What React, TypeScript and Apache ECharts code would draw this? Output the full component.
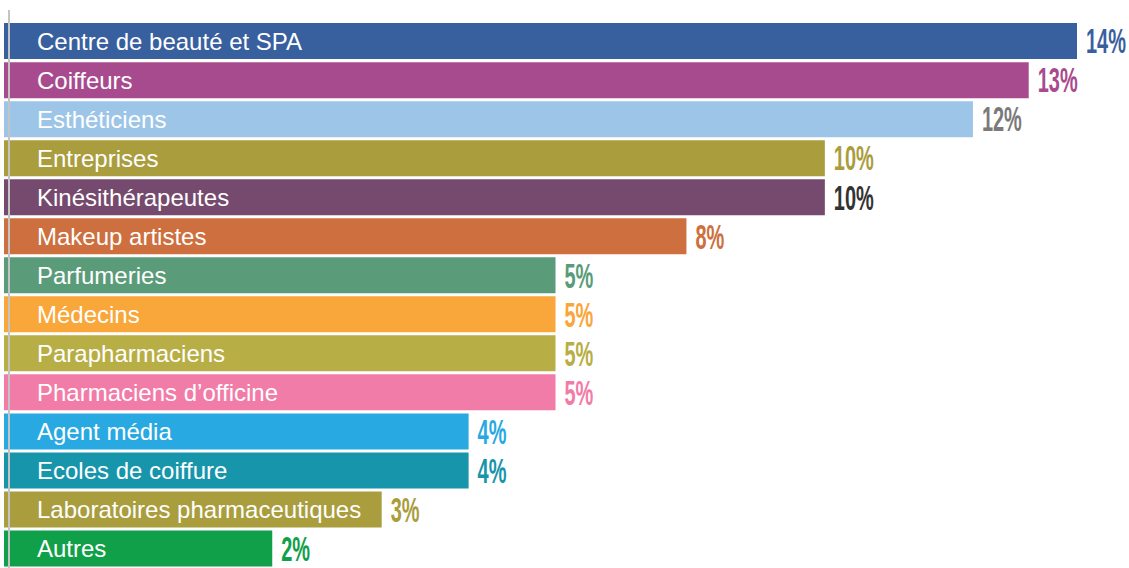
import React, { useEffect, useRef } from "react";
import * as echarts from "echarts";

// Categories, top to bottom
const categories = [
  "Centre de beauté et SPA",
  "Coiffeurs",
  "Esthéticiens",
  "Entreprises",
  "Kinésithérapeutes",
  "Makeup artistes",
  "Parfumeries",
  "Médecins",
  "Parapharmaciens",
  "Pharmaciens d’officine",
  "Agent média",
  "Ecoles de coiffure",
  "Laboratoires pharmaceutiques",
  "Autres",
];

// Displayed shares (%)
const shares = [14, 13, 12, 10, 10, 8, 5, 5, 5, 5, 4, 4, 3, 2];

// Bar lengths as drawn in the infographic (relative, longest bar = 100)
const barLengths = [100, 95.5, 90.3, 76.5, 76.5, 63.6, 51.4, 51.4, 51.4, 51.4, 43.3, 43.3, 35.2, 25.0];

const barColors = [
  "#38609e",
  "#a84b8e",
  "#9dc5e8",
  "#a99d3d",
  "#764a6e",
  "#cd6f3e",
  "#5a9c7a",
  "#f9a63a",
  "#b8ae46",
  "#f27ca8",
  "#29a9e1",
  "#1795ab",
  "#a99d3d",
  "#10a049",
];

const labelColors = [
  "#3a5f9f",
  "#a84b8e",
  "#7a7a7a",
  "#a99d3d",
  "#333333",
  "#cd6f3e",
  "#5a9c7a",
  "#f9a63a",
  "#b8ae46",
  "#f27ca8",
  "#29a9e1",
  "#1795ab",
  "#a99d3d",
  "#10a049",
];

export default function App() {
  const ref = useRef<HTMLDivElement>(null);

  useEffect(() => {
    if (!ref.current) return;
    const chart = echarts.init(ref.current, null, { renderer: "svg" });

    const option: any = {
      animation: false,
      backgroundColor: "#ffffff",
      grid: { left: 4, right: 52, top: 21.6, bottom: -1.6, containLabel: false },
      xAxis: {
        type: "value",
        min: 0,
        max: 100,
        show: false,
      },
      yAxis: {
        type: "category",
        inverse: true,
        data: categories,
        show: false,
      },
      series: [
        {
          type: "bar",
          barWidth: 36,
          data: barLengths.map((v, i) => ({
            value: v,
            itemStyle: { color: barColors[i] },
          })),
          label: {
            show: true,
            position: "insideLeft",
            distance: 33,
            formatter: "{b}",
            color: "#ffffff",
            fontSize: 24,
            fontFamily: "Liberation Sans, Arial, sans-serif",
          },
          silent: true,
        },
        {
          type: "custom",
          data: barLengths.map((v, i) => [v, i, shares[i]]),
          encode: { x: 0, y: 1 },
          renderItem: (params: any, api: any) => {
            const idx = params.dataIndex;
            const pt = api.coord([api.value(0), api.value(1)]);
            return {
              type: "text",
              x: pt[0] + 9,
              y: pt[1],
              scaleX: 0.57,
              style: {
                text: shares[idx] + "%",
                fill: labelColors[idx],
                font: "bold 35px 'Liberation Sans', Arial, sans-serif",
                verticalAlign: "middle",
                align: "left",
              },
            };
          },
          silent: true,
        },
      ],
      graphic: [
        {
          type: "line",
          z: 100,
          shape: { x1: 9, y1: 10, x2: 9, y2: 568 },
          style: { stroke: "#c4c4c4", lineWidth: 2 },
        },
      ],
    };

    chart.setOption(option);
    return () => chart.dispose();
  }, []);

  return (
    <div
      ref={ref}
      style={{ position: "absolute", left: 0, top: 0, width: 1129, height: 568 }}
    />
  );
}
